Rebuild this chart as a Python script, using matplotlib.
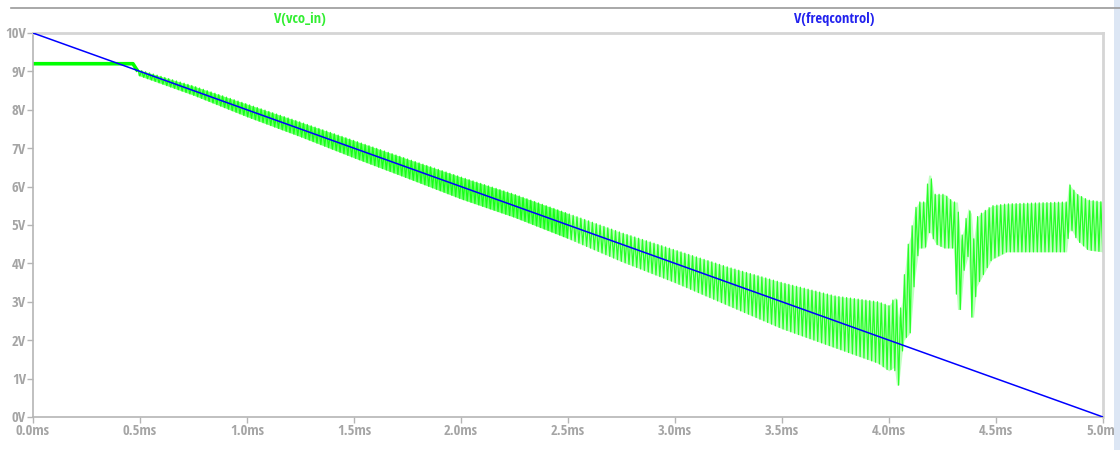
import matplotlib
matplotlib.use('Agg')
import matplotlib.pyplot as plt
from matplotlib import font_manager as fm
import numpy as np

# time axis in ms, voltages in V
ctrl_t = [0.0, 5.0]
ctrl_v = [10.0, 0.0]

# vco_in before the loop kicks in (flat)
hold_t = [0.0, 0.467, 0.49]
hold_v = [9.2, 9.2, 9.0]

# ripple envelope of vco_in once it starts tracking
env_t = [0.49, 0.75, 1.0, 1.25, 1.5, 1.75, 2.0, 2.25, 2.5, 2.75, 3.0, 3.25,
         3.5, 3.75, 3.95, 4.0, 4.025, 4.035, 4.045, 4.06, 4.07, 4.085, 4.1,
         4.12, 4.14, 4.17, 4.185, 4.195, 4.21, 4.22, 4.26, 4.3, 4.32, 4.335,
         4.35, 4.37, 4.385, 4.395, 4.41, 4.43, 4.48, 4.55, 4.83, 4.84, 4.85,
         4.88, 4.93, 5.0]
env_hi = [9.05, 8.62, 8.15, 7.68, 7.2, 6.72, 6.25, 5.8, 5.3, 4.8, 4.35, 3.9,
          3.5, 3.15, 3.0, 2.9, 3.1, 3.1, 2.6, 3.0, 3.6, 4.4, 4.7,
          5.4, 5.6, 5.6, 6.3, 6.3, 5.8, 5.8, 5.8, 5.6, 5.6, 4.6,
          4.9, 5.44, 5.3, 4.6, 5.2, 5.3, 5.5, 5.55, 5.6, 6.1, 6.0,
          5.8, 5.65, 5.6]
env_lo = [8.9, 8.38, 7.82, 7.3, 6.75, 6.22, 5.68, 5.2, 4.65, 4.05, 3.5, 2.9,
          2.3, 1.8, 1.4, 1.2, 1.3, 0.83, 0.83, 1.6, 2.0, 2.1, 2.2,
          3.6, 4.4, 4.4, 4.8, 4.8, 4.6, 4.5, 4.4, 4.4, 2.8, 2.8,
          3.8, 4.2, 2.6, 2.6, 3.4, 3.6, 4.1, 4.3, 4.3, 4.8, 4.9,
          4.6, 4.35, 4.3]

ripple_period = 0.018  # ms

# alternate between the envelope edges once per half period
half = ripple_period / 2
tz = np.arange(env_t[0], env_t[-1] + half / 2, half)
hi_z = np.interp(tz, env_t, env_hi)
lo_z = np.interp(tz, env_t, env_lo)
vz = np.where(np.arange(len(tz)) % 2 == 0, hi_z, lo_z)


def narrow_font():
    # prefer a narrow bold face for the axis text, like the scope window
    want = ['Liberation Sans Narrow', 'DejaVu Sans Condensed', 'Noto Sans Condensed',
            'Open Sans Condensed', 'Roboto Condensed']
    fonts = fm.fontManager.ttflist
    for name in want:
        for f in fonts:
            if f.name == name and f.weight in ('bold', 700):
                return fm.FontProperties(fname=f.fname)
    for f in fonts:
        if f.stretch in ('condensed', 'semi-condensed', 'extra-condensed') \
                and f.weight in ('bold', 700) and 'Mono' not in f.name:
            return fm.FontProperties(fname=f.fname)
    for f in fonts:
        if ('Narrow' in f.name or 'Condensed' in f.name) and 'Mono' not in f.name:
            return fm.FontProperties(fname=f.fname)
    return None


fp = narrow_font()
if fp is None:
    fp = fm.FontProperties(family='DejaVu Sans', weight='bold')
    fsize = 8.5
else:
    fsize = 10.5

fig = plt.figure(figsize=(11.2, 4.5), dpi=100)
ax = fig.add_axes([33 / 1120, 33 / 450, 1070 / 1120, 384 / 450])

green = '#00ff00'
env_t_a = np.array(env_t)
ax.plot(hold_t, hold_v, color=green, lw=2.6, solid_capstyle='butt', zorder=2)
# the ripple reads almost solid while it is small, striped once it opens up
ax.fill_between(env_t, env_lo, env_hi, where=env_t_a <= 2.5, color=green,
                alpha=0.55, lw=0, zorder=1)
ax.fill_between(env_t, env_lo, env_hi, where=env_t_a >= 2.5, color=green,
                alpha=0.25, lw=0, zorder=1)
ax.plot(tz, vz, color=green, lw=0.9, alpha=0.8, zorder=2)
ax.plot(ctrl_t, ctrl_v, color='#0000ff', lw=1.1, zorder=3)

ax.set_xlim(0, 5)
ax.set_ylim(0, 10)
ax.set_xticks(np.arange(0, 5.01, 0.5))
ax.set_xticklabels([f'{v:.1f}ms' for v in np.arange(0, 5.01, 0.5)])
ax.set_yticks(range(0, 11))
ax.set_yticklabels([f'{v}V' for v in range(0, 11)])

for lab in ax.get_xticklabels() + ax.get_yticklabels():
    lab.set_fontproperties(fp)
    lab.set_fontsize(fsize)
    lab.set_color('#a5a5a5')
ax.tick_params(direction='out', length=4, width=1, color='#b5b5b5', pad=1)

for side in ['left', 'bottom']:
    ax.spines[side].set_color('#b5b5b5')
    ax.spines[side].set_linewidth(1.2)
for side in ['top', 'right']:
    ax.spines[side].set_color('#d5d5d5')
    ax.spines[side].set_linewidth(2)

ax.text(0.2495, 1.0 + 14 / 384, 'V(vco_in)', transform=ax.transAxes,
        ha='center', va='center', color='#33ee33', fontproperties=fp,
        fontsize=fsize)
ax.text(0.7486, 1.0 + 14 / 384, 'V(freqcontrol)', transform=ax.transAxes,
        ha='center', va='center', color='#2222ee', fontproperties=fp,
        fontsize=fsize)

# window frame: top rule and the pale strip on the right edge
fig.add_artist(plt.Line2D([11 / 1120, 1.0], [1 - 8 / 450, 1 - 8 / 450],
                          color='#9a9a9a', lw=1.2))
fig.add_artist(plt.Rectangle((1114 / 1120, 0), 6 / 1120, 1, color='#dce6f4',
                             lw=0))

fig.savefig('out.png', dpi=100)
